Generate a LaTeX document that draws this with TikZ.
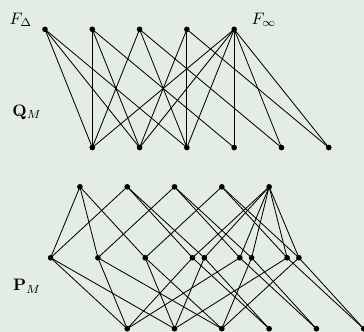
\documentclass[tikz,border=0pt]{standalone}
\usepackage{amsmath}
\usepackage{amssymb}
\usepackage{xcolor}
\definecolor{panelbg}{RGB}{227,237,227}
\tikzset{vtx/.style={circle,fill=black,inner sep=0pt,minimum size=3.4pt},
  hasse/.style={line width=0.5pt}}

\begin{document}
\begin{tikzpicture}[x=1cm,y=1cm]
  \fill[panelbg] (0,0) rectangle (7.696,-7.019);
  \useasboundingbox (0,0) rectangle (7.696,-7.019);
  % Q_M: top row and bottom row
  \foreach \i in {0,...,4} \node[vtx] (q\i) at (0.951+\i,-0.62) {};
  \foreach \j in {1,...,6} \node[vtx] (r\j) at (0.951+\j,-3.12) {};
  \foreach \a/\b in {0/1,0/2,0/3,1/1,1/2,1/4,2/1,2/3,2/5,3/2,3/3,3/6,4/1,4/2,4/3,4/4,4/5,4/6}
    \draw[hasse] (q\a.center) -- (r\b.center);
  \node (fdelta) at (0.44,-0.42) {$F_\Delta$};
  \node (finfty) at (5.58,-0.42) {$F_\infty$};
  \node (qlab) at (0.57,-2.37) {$\mathbf{Q}_M$};
  % P_M: three rows, primed middle vertices sit a little to the right
  \foreach \i in {0,...,4} \node[vtx] (t\i) at (1.69+\i,-3.95) {};
  \foreach \i in {0,...,5} \node[vtx] (m\i) at (1.07+\i,-5.45) {};
  \foreach \i in {3,4,5} \node[vtx] (n\i) at (1.32+\i,-5.45) {};
  \foreach \j in {0,...,5} \node[vtx] (b\j) at (2.69+\j,-6.95) {};
  \foreach \a/\b in {t0/m0,t0/m1,t0/m2,t1/m0,t1/m3,t1/n3,t2/m1,t2/m4,t2/n4,t3/m2,t3/m5,t3/n5,
      t4/m3,t4/n3,t4/m4,t4/n4,t4/m5,t4/n5}
    \draw[hasse] (\a.center) -- (\b.center);
  \foreach \a/\b in {m0/b0,m0/b1,m1/b0,m1/b2,m2/b1,m2/b2,m3/b0,m3/b3,n3/b1,n3/b3,
      m4/b0,m4/b4,n4/b2,n4/b4,m5/b1,m5/b5,n5/b2,n5/b5}
    \draw[hasse] (\a.center) -- (\b.center);
  \node (plab) at (0.57,-6.05) {$\mathbf{P}_M$};
\end{tikzpicture}
\end{document}
